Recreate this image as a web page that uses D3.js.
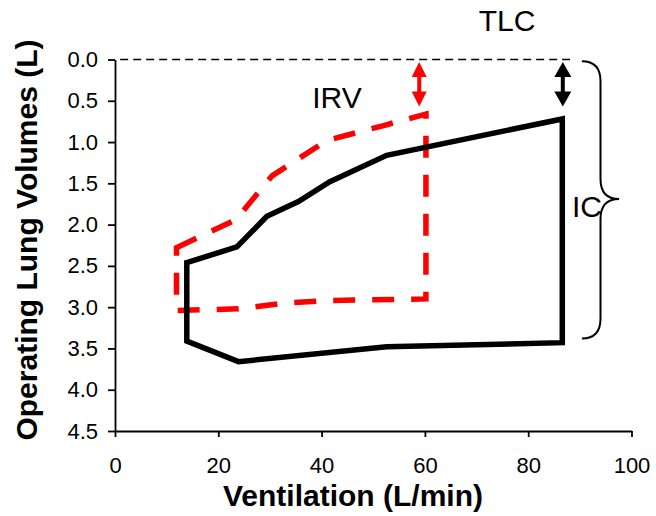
<!DOCTYPE html>
<html>
<head>
<meta charset="utf-8">
<script src="https://cdn.jsdelivr.net/npm/d3@7"></script>
<style>
  html, body { margin: 0; padding: 0; background: #fff; }
  svg { display: block; font-family: "Liberation Sans", Arial, sans-serif; }
</style>
</head>
<body>
<svg id="chart" width="656" height="516"></svg>
<script>
// Axis ticks
const ventTicks = [0, 20, 40, 60, 80, 100];
const volTicks = [0, 0.5, 1.0, 1.5, 2.0, 2.5, 3.0, 3.5, 4.0, 4.5];

// Solid loop: ventilation (L/min) and operating lung volume (L)
const solidVent = [13.9, 23.6, 29.4, 35.5, 41.6, 52.6, 86.6, 86.6, 52.6, 23.9, 13.9];
const solidVol  = [2.46, 2.27, 1.90, 1.72, 1.48, 1.16, 0.72, 3.43, 3.48, 3.66, 3.41];

// Dashed loop
const dashedVent = [11.9, 23.4, 30.4, 41.0, 52.0, 60.2, 60.2, 41.0, 33.0, 23.9, 11.9];
const dashedVol  = [2.28, 1.94, 1.41, 0.98, 0.80, 0.66, 2.90, 2.92, 2.95, 3.02, 3.04];

// Reserve arrows below TLC (ventilation, from volume, to volume)
const arrowVent = [58.9, 86.7];
const arrowFrom = [0.03, 0.03];
const arrowTo   = [0.57, 0.57];
const arrowColor = ["#ff0000", "#000000"];

const svg = d3.select("#chart");

const x = d3.scaleLinear().domain([0, 100]).range([115, 631.5]);
const y = d3.scaleLinear().domain([0, 4.5]).range([59.5, 431]);

// Axes
const yAxis = d3.axisLeft(y).tickValues(volTicks).tickFormat(d3.format(".1f"))
  .tickSize(7).tickSizeOuter(0).tickPadding(10);
const xAxis = d3.axisBottom(x).tickValues(ventTicks).tickFormat(d3.format("d"))
  .tickSize(6).tickSizeOuter(0).tickPadding(20);

const gy = svg.append("g").attr("transform", `translate(${x(0)},0)`).call(yAxis);
const gx = svg.append("g").attr("transform", `translate(0,${y(4.5)})`).call(xAxis);
[gx, gy].forEach(g => {
  g.selectAll("path.domain").attr("stroke", "#000").attr("stroke-width", 1.8);
  g.selectAll(".tick line").attr("stroke", "#000").attr("stroke-width", 1.8);
  g.selectAll(".tick text").attr("fill", "#000")
    .style("font-size", "22px").style("font-family", '"Liberation Sans", Arial, sans-serif');
});

// TLC reference line
svg.append("line")
  .attr("x1", x(1)).attr("x2", x(88.1))
  .attr("y1", y(0)).attr("y2", y(0))
  .attr("stroke", "#000").attr("stroke-width", 1.6)
  .attr("stroke-dasharray", "8,5");

const loop = d3.line().curve(d3.curveLinearClosed)
  .x(d => x(d[0])).y(d => y(d[1]));

// Dashed loop
svg.append("path")
  .datum(dashedVent.map((v, i) => [v, dashedVol[i]]))
  .attr("d", loop)
  .attr("fill", "none").attr("stroke", "#ff0000").attr("stroke-width", 5.5)
  .attr("stroke-dasharray", "22,17").attr("stroke-linejoin", "miter");

// Solid loop
svg.append("path")
  .datum(solidVent.map((v, i) => [v, solidVol[i]]))
  .attr("d", loop)
  .attr("fill", "none").attr("stroke", "#000").attr("stroke-width", 5.5)
  .attr("stroke-linejoin", "miter");

// Double-headed arrows
arrowVent.forEach((v, i) => {
  const cx = x(v), y0 = y(arrowFrom[i]), y1 = y(arrowTo[i]);
  const head = 15, half = i === 0 ? 7.5 : 8.5;
  const g = svg.append("g").attr("fill", arrowColor[i]);
  g.append("rect").attr("x", cx - 2).attr("width", 4)
    .attr("y", y0 + head - 1).attr("height", (y1 - y0) - 2 * head + 2);
  g.append("path").attr("d",
    `M${cx},${y0} L${cx + half},${y0 + head} L${cx - half},${y0 + head} Z`);
  g.append("path").attr("d",
    `M${cx},${y1} L${cx + half},${y1 - head} L${cx - half},${y1 - head} Z`);
});

// Curly brace spanning the inspiratory capacity
{
  const xb0 = x(90.4), xb1 = x(94.0), xt = x(97.6);
  const yt = y(0.02), ym = y(1.69), yb = y(3.38);
  const r = 20;
  const d = `M${xb0},${yt} Q${xb1},${yt} ${xb1},${yt + r}` +
            ` L${xb1},${ym - r} Q${xb1},${ym} ${xt},${ym}` +
            ` Q${xb1},${ym} ${xb1},${ym + r}` +
            ` L${xb1},${yb - r} Q${xb1},${yb} ${xb0},${yb}`;
  svg.append("path").attr("d", d).attr("fill", "none")
    .attr("stroke", "#000").attr("stroke-width", 2);
}

// Annotation labels
const ann = svg.append("g").style("font-size", "30px").attr("fill", "#000");
ann.append("text").attr("x", 507).attr("y", 31).attr("text-anchor", "middle").text("TLC");
ann.append("text").attr("x", 337).attr("y", 108).attr("text-anchor", "middle").text("IRV");
ann.append("text").attr("x", 587).attr("y", 217).attr("text-anchor", "middle").text("IC");

// Axis titles
svg.append("text")
  .attr("x", 353).attr("y", 506).attr("text-anchor", "middle")
  .style("font-size", "30px").style("font-weight", "bold")
  .text("Ventilation (L/min)");
svg.append("text")
  .attr("transform", "translate(37,240) rotate(-90)").attr("text-anchor", "middle")
  .style("font-size", "30px").style("font-weight", "bold")
  .text("Operating Lung Volumes (L)");
</script>
</body>
</html>
